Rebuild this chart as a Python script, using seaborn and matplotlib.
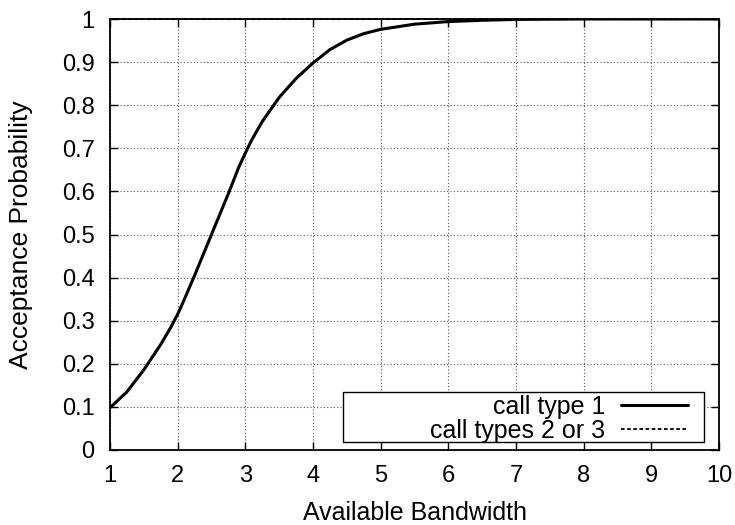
import numpy as np
import pandas as pd
import matplotlib
matplotlib.use("Agg")
import matplotlib.pyplot as plt
from matplotlib.patches import Rectangle
import seaborn as sns

# values
bandwidth = [1.0, 1.25, 1.5, 1.75, 1.9, 2.0, 2.1, 2.25, 2.5, 2.75, 2.9, 3.0,
             3.1, 3.25, 3.5, 3.75, 4.0, 4.25, 4.5, 4.75, 5.0, 5.5, 6.0, 6.5,
             7.0, 8.0, 9.0, 10.0]
prob_type1 = [0.098, 0.135, 0.186, 0.245, 0.285, 0.315, 0.35, 0.405, 0.50,
              0.595, 0.655, 0.689, 0.721, 0.762, 0.818, 0.862, 0.898, 0.929,
              0.951, 0.966, 0.976, 0.988, 0.994, 0.997, 0.999, 1.0, 1.0, 1.0]
bandwidth_23 = [1.0, 10.0]
prob_type23 = [1.0, 1.0]
labels = ["call type 1", "call types 2 or 3"]

sns.set_theme(style="ticks")
plt.rcParams['font.family'] = ['Liberation Sans', 'DejaVu Sans']
plt.rcParams['text.color'] = 'black'
plt.rcParams['axes.labelcolor'] = 'black'

df1 = pd.DataFrame({"x": bandwidth, "y": prob_type1})
df2 = pd.DataFrame({"x": bandwidth_23, "y": prob_type23})

fig = plt.figure(figsize=(7.35, 5.25), dpi=100)
ax = fig.add_axes([110 / 735, 1 - 450 / 525, 609 / 735, 431 / 525])

sns.lineplot(data=df1, x="x", y="y", ax=ax, color="black", linewidth=2.2,
             label=labels[0])
sns.lineplot(data=df2, x="x", y="y", ax=ax, color="black", linewidth=1.3,
             linestyle=(0, (2.0, 1.4)), label=labels[1], clip_on=False,
             zorder=3)
for ln in ax.get_lines():
    ln.set_solid_joinstyle("round")

ax.set_xlim(1, 10)
ax.set_ylim(0, 1)
ax.set_xticks(range(1, 11))
ax.set_yticks(np.arange(0, 1.01, 0.1))
ax.set_yticklabels(["0"] + [f"{v:.1f}" for v in np.arange(0.1, 1.0, 0.1)] + ["1"])
ax.grid(True, color="#555555", linestyle=(0, (1, 2)), linewidth=0.8)
ax.tick_params(direction="in", length=6, width=1, top=True, right=True,
               labelsize=17, colors="black", pad=11)
for s in ax.spines.values():
    s.set_color("black")
    s.set_linewidth(1.3)

ax.set_xlabel("Available Bandwidth", fontsize=18)
ax.set_ylabel("Acceptance Probability", fontsize=19)
ax.xaxis.set_label_coords(0.5, -0.118)
ax.yaxis.set_label_coords(-0.126, 0.5)

# gnuplot-style key: right-aligned text, sample line on the right, wide box
leg = ax.legend(loc="lower right", bbox_to_anchor=((688 - 110) / 609, 0.016),
                markerfirst=False, fontsize=18, frameon=False,
                handlelength=2.7, borderpad=0, labelspacing=0.02,
                handletextpad=0.6, borderaxespad=0)
ax.add_patch(Rectangle((0.3826, 0.0176), 0.9754 - 0.3826, 0.1347 - 0.0176,
                       transform=ax.transAxes, fill=True, facecolor="white",
                       edgecolor="black", linewidth=1.0, zorder=4))
leg.set_zorder(5)

fig.savefig("out.png", dpi=100)
